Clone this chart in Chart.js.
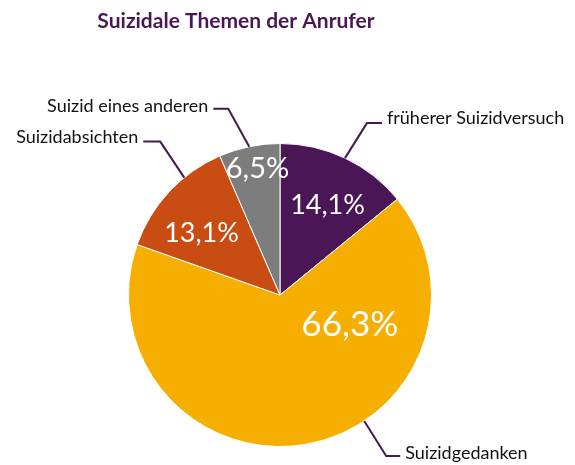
<!DOCTYPE html>
<html>
<head>
<meta charset="utf-8">
<script src="https://cdn.jsdelivr.net/npm/chart.js@4"></script>
<style>
body { margin: 0; background: #fff; }
</style>
</head>
<body>
<canvas id="myChart" width="575" height="465"></canvas>
<script>
const chartTitle = 'Suizidale Themen der Anrufer';
const topics = ['früherer Suizidversuch', 'Suizidgedanken', 'Suizidabsichten', 'Suizid eines anderen'];
const shares = [14.1, 66.3, 13.1, 6.5];
const sliceColors = ['#4b1655', '#f6ae00', '#c94c13', '#7c7d7c'];

// where the % label sits inside each slice (fraction of the sweep, fraction of radius, font px)
const pctPos = [
    {f: 0.55, r: 0.67, size: 27},
    {f: 0.26, r: 0.50, size: 35},
    {f: 0.40, r: 0.66, size: 27},
    {f: 0.57, r: 0.85, size: 29}
];
// leader lines: where they leave the edge, elbow offset, direction of the tail
const leaders = [
    {f: 0.50, dx: 22, dy: -35, dir: 1, tail: 15, base: 1},
    {f: 0.40, dx: 22, dy: 35, dir: 1, tail: 14, base: 3},
    {f: 0.665, dx: -24, dy: -36, dir: -1, tail: 17, base: 1},
    {f: 0.50, dx: -21, dy: -38, dir: -1, tail: 15, base: 3}
];
const purple = '#4b1655';
const fontName = 'Lato, "Open Sans", sans-serif';

const labelPlugin = {
    id: 'labelPlugin',
    afterDatasetsDraw(chart) {
        const ctx = chart.ctx;
        const arcs = chart.getDatasetMeta(0).data;
        ctx.save();
        // title
        ctx.fillStyle = purple;
        ctx.font = 'bold 21px ' + fontName;
        ctx.textAlign = 'center';
        ctx.textBaseline = 'alphabetic';
        ctx.fillText(chartTitle, 236, 28);

        arcs.forEach(function(arc, i) {
            const p = arc.getProps(['x', 'y', 'startAngle', 'endAngle', 'outerRadius'], true);
            // percent label
            const a = p.startAngle + (p.endAngle - p.startAngle) * pctPos[i].f;
            const rr = p.outerRadius * pctPos[i].r;
            ctx.fillStyle = '#ffffff';
            ctx.font = pctPos[i].size + 'px ' + fontName;
            ctx.textAlign = 'center';
            ctx.textBaseline = 'middle';
            ctx.fillText(shares[i].toFixed(1).replace('.', ',') + '%', p.x + Math.cos(a) * rr, p.y + Math.sin(a) * rr);

            // leader line
            const L = leaders[i];
            const b = p.startAngle + (p.endAngle - p.startAngle) * L.f;
            const x0 = p.x + Math.cos(b) * p.outerRadius;
            const y0 = p.y + Math.sin(b) * p.outerRadius;
            const x1 = x0 + L.dx, y1 = y0 + L.dy;
            const x2 = x1 + L.dir * L.tail;
            ctx.strokeStyle = purple;
            ctx.lineWidth = 2;
            ctx.beginPath();
            ctx.moveTo(x0, y0);
            ctx.lineTo(x1, y1);
            ctx.lineTo(x2, y1);
            ctx.stroke();

            ctx.fillStyle = '#111111';
            ctx.font = '18px ' + fontName;
            ctx.textAlign = L.dir > 0 ? 'left' : 'right';
            ctx.textBaseline = 'alphabetic';
            ctx.fillText(topics[i], x2 + L.dir * 5, y1 + L.base);
        });
        ctx.restore();
    }
};

const ctx = document.getElementById('myChart').getContext('2d');
const myChart = new Chart(ctx, {
    type: 'pie',
    data: {
        labels: topics,
        datasets: [{
            data: shares,
            backgroundColor: sliceColors,
            borderColor: '#ffffff',
            borderWidth: 1
        }]
    },
    options: {
        responsive: false,
        animation: false,
        layout: {
            padding: {left: 128, right: 143, top: 143, bottom: 18}
        },
        plugins: {
            legend: { display: false },
            tooltip: { enabled: false },
            title: { display: false }
        }
    },
    plugins: [labelPlugin]
});
</script>
</body>
</html>
